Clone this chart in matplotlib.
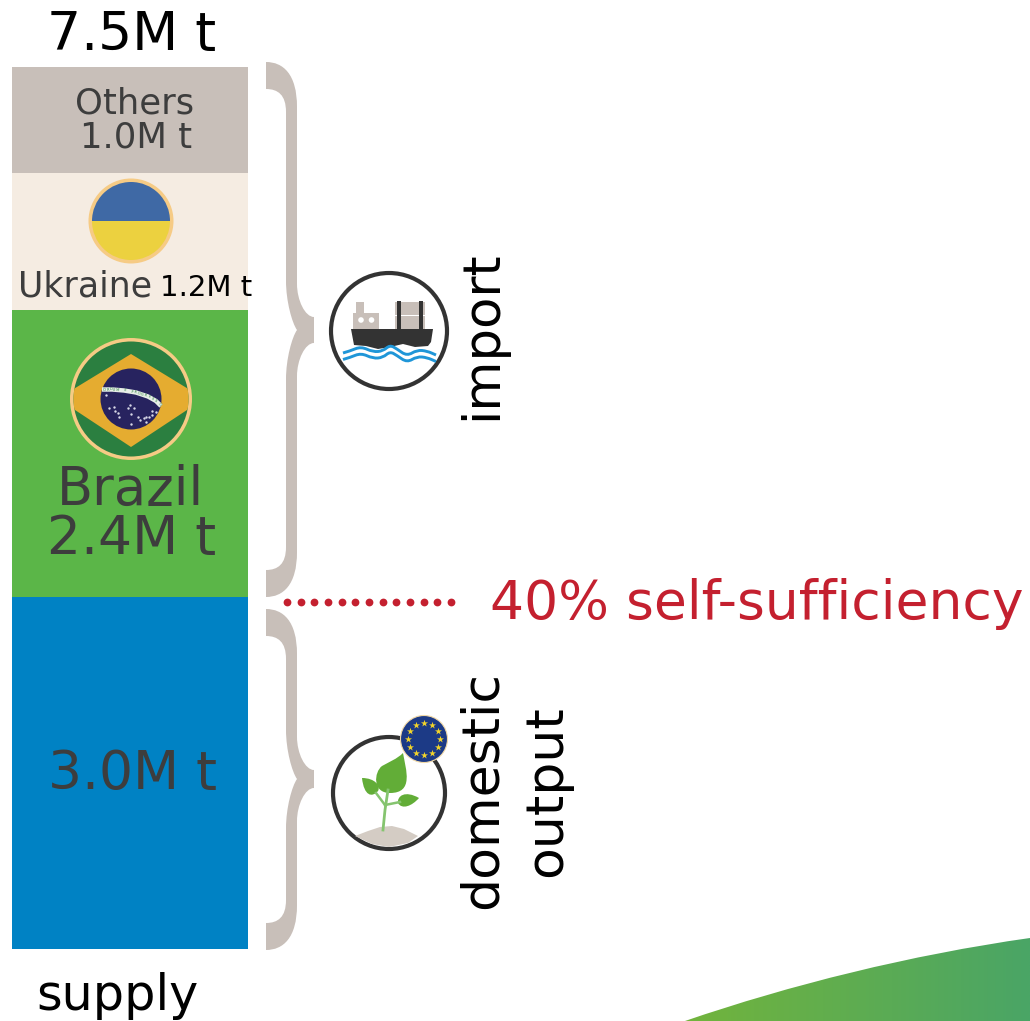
import numpy as np
import matplotlib
matplotlib.use('Agg')
import matplotlib.pyplot as plt
from matplotlib.path import Path
from matplotlib.patches import PathPatch, Circle, Polygon, Wedge, Rectangle
from matplotlib.colors import LinearSegmentedColormap

# stack from the bottom up, heights (M t)
segments = ['domestic', 'Brazil', 'Ukraine', 'Others']
heights = [2.99, 2.44, 1.165, 0.905]
colors = ['#0082c4', '#5bb648', '#f5ece2', '#c8bfb9']

total_label = '7.5M t'
others_label = '1.0M t'
ukraine_label = '1.2M t'
brazil_label = '2.4M t'
domestic_label = '3.0M t'
bar_label = 'supply'
self_suff = '40% self-sufficiency'

BRACE = '#c8bfb9'
DARK = '#3d3d3d'
RING = '#333333'
RED = '#c4202f'
LEAF = '#62ad37'

W, H = 1030, 1021
fig = plt.figure(figsize=(W / 100, H / 100), dpi=100)

# bar axes: pixel box of the bar, y in M t
ax = fig.add_axes([12 / W, (H - 949) / H, 236 / W, 882 / H])
bottom = 0
for h, c in zip(heights, colors):
    ax.bar(0, h, width=1, bottom=bottom, color=c, linewidth=0)
    bottom += h
ax.set_xlim(-0.5, 0.5)
ax.set_ylim(0, sum(heights))
ax.axis('off')

# everything else goes on an overlay in image pixels
ov = fig.add_axes([0, 0, 1, 1], zorder=5)
ov.set_xlim(0, W)
ov.set_ylim(H, 0)
ov.axis('off')
ov.patch.set_alpha(0)

C, L = Path.CURVE4, Path.LINETO


def brace(top, bot, tip, flat):
    x0, xi, xo, xt, xn = 266, 286, 297, 314, 297
    pts = [(x0, top),
           (283, top), (xo, top + 12), (xo, top + 45),
           (xo, tip - flat - 33),
           (xo, tip - flat - 17), (305, tip - flat), (xt, tip - flat),
           (xt, tip + flat),
           (305, tip + flat), (xo, tip + flat + 17), (xo, tip + flat + 33),
           (xo, bot - 45),
           (xo, bot - 12), (283, bot), (x0, bot),
           (x0, bot - 27),
           (278, bot - 27), (xi, bot - 33), (xi, bot - 50),
           (xi, tip + 49),
           (xi, tip + 29), (292, tip + 7), (xn, tip),
           (292, tip - 7), (xi, tip - 29), (xi, tip - 49),
           (xi, top + 50),
           (xi, top + 33), (278, top + 27), (x0, top + 27),
           (x0, top)]
    codes = [Path.MOVETO, C, C, C, L, C, C, C, L, C, C, C, L, C, C, C, L,
             C, C, C, L, C, C, C, C, C, C, L, C, C, C, Path.CLOSEPOLY]
    ov.add_patch(PathPatch(Path(pts, codes), fc=BRACE, ec='none'))


brace(62, 597, 330, 13)
brace(609, 950, 779, 9)

# dotted separator
ov.plot(np.linspace(287, 451, 13), [602] * 13, 'o', color=RED, ms=5.6, mew=0)

# ukraine flag
ov.add_patch(Circle((131, 221), 42.5, fc='#f6cb85', ec='none'))
ov.add_patch(Wedge((131, 221), 39, 180, 360, fc='#3f69a5', ec='none'))
ov.add_patch(Wedge((131, 221), 39, 0, 180, fc='#ecd13f', ec='none'))

# brazil flag
ov.add_patch(Circle((131, 399), 61, fc='#f6cb85', ec='none'))
ov.add_patch(Circle((131, 399), 57.5, fc='#2b7f40', ec='none'))
clip = Circle((131, 399), 57.5, transform=ov.transData)
dia = Polygon([(131, 354), (190, 390), (190, 408), (131, 447), (72, 408), (72, 390)],
              fc='#e5ac30', ec='none')
ov.add_patch(dia)
dia.set_clip_path(clip)
ov.add_patch(Circle((131, 399), 30.5, fc='#27235f', ec='none'))
xs = np.array([102, 112, 124, 136, 148, 156, 161])
ys = np.array([389.5, 389.5, 390.5, 392.5, 396.5, 401, 406])
ov.plot(xs, ys, color='#e8efe8', lw=3.2, solid_capstyle='butt')
motto = 'ORDEM E PROGRESSO'
for i, ch in enumerate(motto):
    f = i / (len(motto) - 1)
    mx = 104 + f * 55
    my = np.interp(mx, xs, ys)
    ang = -np.degrees(np.arctan2(np.interp(mx + 2, xs, ys) - np.interp(mx - 2, xs, ys), 4))
    ov.text(mx, my, ch, fontsize=2.6, color='#2b7f40', ha='center', va='center', rotation=ang)
star_x = [106, 109, 114, 115, 118, 119, 128, 130, 131, 134, 138, 140, 144, 146, 146, 149, 152, 152, 156, 131]
star_y = [395, 408, 407, 411, 413, 417, 408, 405, 414, 408, 417, 420, 418, 417, 422, 417, 415, 411, 412, 424]
ov.scatter(star_x, star_y, s=3, color='#d8d8e8', linewidths=0)

# ship icon
ov.add_patch(Circle((389, 331), 58, fc='white', ec=RING, lw=3.0))
ov.add_patch(Rectangle((356, 302), 8, 12, fc=BRACE, ec='none'))
ov.add_patch(Rectangle((353, 313), 26, 16, fc=BRACE, ec='none'))
ov.add_patch(Circle((361, 320), 2.8, fc='white', ec='none'))
ov.add_patch(Circle((371.5, 320), 2.8, fc='white', ec='none'))
ov.add_patch(Rectangle((395, 302), 30, 13, fc=BRACE, ec='none'))
ov.add_patch(Rectangle((395, 316), 30, 13, fc=BRACE, ec='none'))
ov.add_patch(Rectangle((397, 301), 4, 28, fc=RING, ec='none'))
ov.add_patch(Rectangle((419, 301), 4, 28, fc=RING, ec='none'))
hull = Polygon([(351, 329), (433, 329), (431, 342), (428, 346), (415, 347), (403, 344),
                (390, 347), (378, 349), (366, 346), (354, 345)], fc=RING, ec='none')
ov.add_patch(hull)


def smooth(px, py):
    # quadratic run through the midpoints
    verts = [(px[0], py[0])]
    codes = [Path.MOVETO]
    for i in range(1, len(px) - 1):
        verts += [(px[i], py[i]), ((px[i] + px[i + 1]) / 2, (py[i] + py[i + 1]) / 2)]
        codes += [Path.CURVE3, Path.CURVE3]
    verts.append((px[-1], py[-1]))
    codes.append(Path.LINETO)
    return Path(verts, codes)


wave_x = [343, 350, 361, 373, 383, 390, 397, 407, 417, 427, 436]
wave_y = np.array([353, 351, 346.5, 352, 351, 345, 349, 356, 350, 351, 355])
for off in [0, 6.5]:
    ov.add_patch(PathPatch(smooth(wave_x, wave_y + off), fc='none', ec='#1f96d8', lw=2.1))

# plant icon
ov.add_patch(Circle((389, 793), 56, fc='white', ec=RING, lw=3.0))
soil = Polygon([(355, 836), (368, 831), (380, 827), (392, 826), (404, 829), (418, 836),
                (408, 843), (389, 847), (372, 844)], fc='#d4ccc4', ec='none')
ov.add_patch(soil)
ov.plot([383, 385, 388], [830, 810, 790], color='#85c46f', lw=2.0)
ov.plot([376, 385], [793, 805], color='#85c46f', lw=1.8)
ov.plot([385, 400], [805, 802], color='#85c46f', lw=1.8)
big = Path([(403, 753), (406, 770), (414, 793), (390, 793), (372, 793), (374, 772), (382, 766),
            (389, 762), (397, 759), (403, 753)],
           [Path.MOVETO, C, C, C, C, C, C, C, C, C])
ov.add_patch(PathPatch(big, fc=LEAF, ec='none'))
left = Path([(362, 778), (375, 778), (381, 786), (378, 791), (372, 798), (364, 796), (362, 778)],
            [Path.MOVETO, C, C, C, C, C, C])
ov.add_patch(PathPatch(left, fc=LEAF, ec='none'))
right = Path([(419, 798), (412, 806), (402, 810), (398, 803), (397, 796), (405, 790), (419, 798)],
             [Path.MOVETO, C, C, C, C, C, C])
ov.add_patch(PathPatch(right, fc=LEAF, ec='none'))

# eu badge
ov.add_patch(Circle((424, 739), 23.5, fc='#1c3a86', ec='#f2d9a6', lw=0.8, zorder=6))
for a in np.arange(12) * np.pi / 6:
    ov.scatter(424 + 16 * np.sin(a), 739 - 16 * np.cos(a), marker='*', s=28,
               color='#f3d42a', linewidths=0, zorder=7)

# swoosh bottom right
cmap = LinearSegmentedColormap.from_list('sw', ['#72b43c', '#4aa566'])
im = ov.imshow(np.linspace(0, 1, 256).reshape(1, -1), cmap=cmap, extent=(685, 1030, 1021, 930),
               aspect='auto', zorder=1)
sw = Path([(685, 1021), (790, 985), (910, 955), (1030, 938), (1030, 1021), (685, 1021)],
          [Path.MOVETO, C, C, C, L, Path.CLOSEPOLY])
im.set_clip_path(PathPatch(sw, transform=ov.transData))
ov.set_xlim(0, W)
ov.set_ylim(H, 0)


def txt(x, y, s, size, color=DARK, rot=0):
    ov.text(x, y, s, fontsize=size, color=color, rotation=rot, ha='center', va='center', zorder=8)


txt(132, 35, total_label, 38.5, 'black')
txt(135, 103, segments[3], 25.5)
txt(136, 137, others_label, 25.5)
txt(85, 286, segments[2], 25)
txt(206, 288, ukraine_label, 21, 'black')
txt(131, 490, segments[1], 38)
txt(132, 539, brazil_label, 38.5)
txt(132, 774, domestic_label, 38.5)
txt(117, 996, bar_label, 35.5, 'black')
txt(482, 335, 'import', 37, 'black', 90)
txt(483, 790, 'domestic', 37.5, 'black', 90)
txt(547, 791, 'output', 37.5, 'black', 90)
txt(757, 604, self_suff, 38.5, RED)

fig.savefig('out.png', dpi=100)
